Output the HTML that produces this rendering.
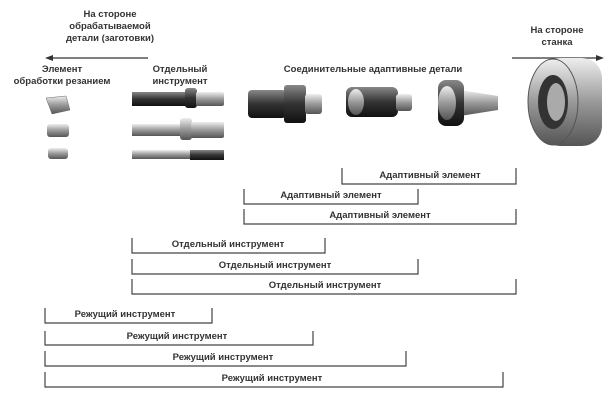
<!DOCTYPE html>
<html><head><meta charset="utf-8"><style>
body{margin:0;background:#fff;width:612px;height:400px;overflow:hidden}
svg{display:block}
text{font-family:"Liberation Sans",sans-serif;font-weight:bold;font-size:9.5px;fill:#333;text-anchor:middle}
.br{fill:none;stroke:#444;stroke-width:1.2}
</style></head><body>
<svg width="612" height="400" viewBox="0 0 612 400">
<defs>
<linearGradient id="m" x1="0" y1="0" x2="0" y2="1"><stop offset="0" stop-color="#eee"/><stop offset=".5" stop-color="#999"/><stop offset="1" stop-color="#555"/></linearGradient>
<linearGradient id="d" x1="0" y1="0" x2="0" y2="1"><stop offset="0" stop-color="#888"/><stop offset=".5" stop-color="#333"/><stop offset="1" stop-color="#111"/></linearGradient>
</defs>
<text x="110" y="17">На стороне</text>
<text x="110" y="29">обрабатываемой</text>
<text x="110" y="41">детали (заготовки)</text>
<line x1="50" y1="58" x2="148" y2="58" stroke="#333" stroke-width="1.3"/>
<polygon points="45,58 53,55 53,61" fill="#333"/>
<text x="557" y="33">На стороне</text>
<text x="557" y="45">станка</text>
<line x1="512" y1="58" x2="598" y2="58" stroke="#333" stroke-width="1.3"/>
<polygon points="604,58 596,55 596,61" fill="#333"/>
<text x="62" y="72">Элемент</text>
<text x="62" y="84">обработки резанием</text>
<text x="180" y="72">Отдельный</text>
<text x="180" y="84">инструмент</text>
<text x="373" y="72">Соединительные адаптивные детали</text>
<!-- cutting elements -->
<polygon points="46,98 66,96 70,110 52,114" fill="url(#m)" stroke="#666" stroke-width=".5"/>
<rect x="47" y="124" width="22" height="13" rx="3" fill="url(#m)"/>
<rect x="48" y="148" width="20" height="11" rx="3" fill="url(#m)"/>
<!-- drills -->
<rect x="132" y="92" width="55" height="14" fill="url(#d)"/>
<rect x="185" y="88" width="12" height="20" rx="3" fill="url(#d)"/>
<rect x="196" y="92" width="28" height="14" rx="2" fill="url(#m)"/>
<rect x="132" y="124" width="50" height="12" fill="url(#m)"/>
<rect x="180" y="118" width="12" height="22" rx="3" fill="url(#m)"/>
<rect x="191" y="122" width="33" height="16" rx="2" fill="url(#m)"/>
<rect x="132" y="150" width="60" height="9" fill="url(#m)"/>
<rect x="190" y="150" width="34" height="10" fill="url(#d)"/>
<!-- adapter 1 -->
<rect x="248" y="90" width="38" height="28" rx="4" fill="url(#d)"/>
<rect x="284" y="85" width="22" height="38" rx="3" fill="url(#d)"/>
<rect x="305" y="94" width="17" height="20" rx="3" fill="url(#m)"/>
<!-- adapter 2 -->
<rect x="346" y="87" width="52" height="30" rx="6" fill="url(#d)"/>
<ellipse cx="356" cy="102" rx="8" ry="13" fill="url(#m)"/>
<rect x="396" y="94" width="16" height="17" rx="3" fill="url(#m)"/>
<!-- holder -->
<polygon points="460,90 498,96 498,110 460,116" fill="url(#m)"/>
<rect x="438" y="80" width="26" height="46" rx="8" fill="url(#d)"/>
<ellipse cx="447" cy="103" rx="9" ry="17" fill="url(#m)"/>
<!-- spindle -->
<rect x="540" y="58" width="62" height="88" rx="20" fill="url(#m)"/>
<ellipse cx="553" cy="102" rx="25" ry="43" fill="url(#m)" stroke="#555"/>
<ellipse cx="553" cy="102" rx="15" ry="27" fill="#333"/>
<ellipse cx="556" cy="102" rx="9" ry="19" fill="#aaa"/>
<!-- brackets -->
<polyline class="br" points="342,168 342,184 516,184 516,168"/><text x="430" y="178">Адаптивный элемент</text>
<polyline class="br" points="244,189 244,204 418,204 418,189"/><text x="331" y="198">Адаптивный элемент</text>
<polyline class="br" points="244,209 244,224 516,224 516,209"/><text x="380" y="218">Адаптивный элемент</text>
<polyline class="br" points="132,238 132,253 325,253 325,238"/><text x="228" y="247">Отдельный инструмент</text>
<polyline class="br" points="132,259 132,274 418,274 418,259"/><text x="275" y="268">Отдельный инструмент</text>
<polyline class="br" points="132,279 132,294 516,294 516,279"/><text x="325" y="288">Отдельный инструмент</text>
<polyline class="br" points="45,308 45,323 212,323 212,308"/><text x="125" y="317">Режущий инструмент</text>
<polyline class="br" points="45,331 45,345 313,345 313,331"/><text x="177" y="339">Режущий инструмент</text>
<polyline class="br" points="45,351 45,366 406,366 406,351"/><text x="223" y="360">Режущий инструмент</text>
<polyline class="br" points="45,372 45,387 503,387 503,372"/><text x="272" y="381">Режущий инструмент</text>
</svg>
</body></html>
